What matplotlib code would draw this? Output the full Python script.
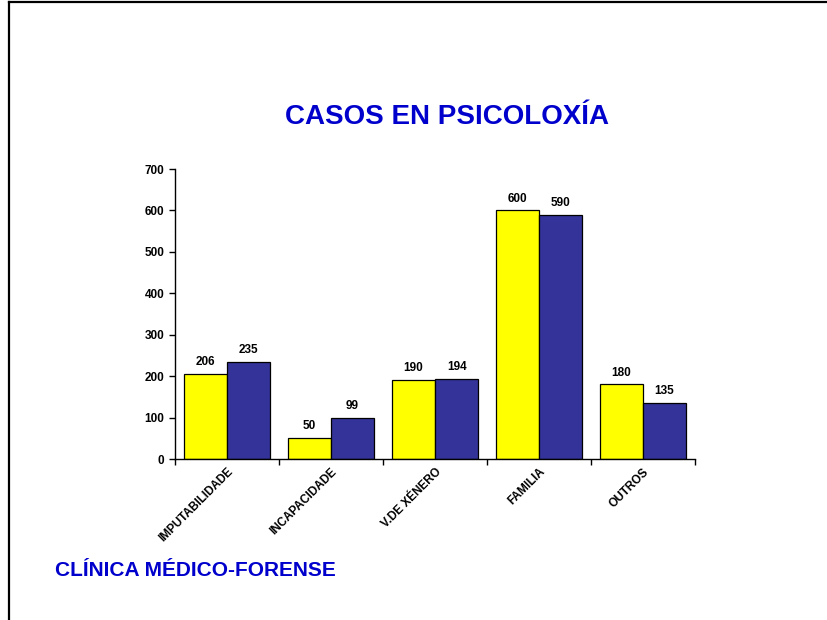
import matplotlib
matplotlib.use('Agg')
import matplotlib.pyplot as plt
from matplotlib.lines import Line2D
import numpy as np

plt.rcParams['font.family'] = ['Liberation Sans', 'DejaVu Sans']

# datos
categorias = ['IMPUTABILIDADE', 'INCAPACIDADE', 'V.DE XÉNERO', 'FAMILIA', 'OUTROS']
serie_a = [206, 50, 190, 600, 180]
serie_b = [235, 99, 194, 590, 135]

W, H = 827, 620
fig = plt.figure(figsize=(W / 100, H / 100), dpi=100)
ax = fig.add_axes([175 / W, 1 - 459 / H, 520 / W, 290 / H])

x = np.arange(len(categorias))
ancho = 0.415
b1 = ax.bar(x - ancho / 2, serie_a, ancho, color='#FFFF00', edgecolor='black', linewidth=0.9)
b2 = ax.bar(x + ancho / 2, serie_b, ancho, color='#333399', edgecolor='black', linewidth=0.9)

for barras in (b1, b2):
    for bar in barras:
        h = bar.get_height()
        ax.text(bar.get_x() + bar.get_width() / 2, h + 14, f'{h:.0f}',
                ha='center', va='bottom', fontsize=8.5, fontweight='bold')

ax.set_xlim(-0.5, len(categorias) - 0.5)
ax.set_ylim(0, 700)
ax.set_yticks(range(0, 701, 100))
ax.set_yticklabels([str(v) for v in range(0, 701, 100)], fontsize=8.5, fontweight='bold')

# ticks at category boundaries, labels at centers
ax.set_xticks(np.arange(-0.5, len(categorias), 1.0))
ax.set_xticklabels([])
ax.set_xticks(x, minor=True)
ax.set_xticklabels(categorias, minor=True, rotation=45, ha='right', rotation_mode='anchor',
                   fontsize=8.5, fontweight='bold')
ax.tick_params(axis='x', which='minor', length=0, pad=5)
ax.tick_params(axis='both', which='major', direction='out', length=4, width=1)

for s in ('top', 'right'):
    ax.spines[s].set_visible(False)
for s in ('left', 'bottom'):
    ax.spines[s].set_linewidth(1)

fig.text(447 / W, 1 - 117 / H, 'CASOS EN PSICOLOXÍA', ha='center', va='center',
         fontsize=20, fontweight='bold', color='#0000CC')
fig.text(55 / W, 1 - 570 / H, 'CLÍNICA MÉDICO-FORENSE', ha='left', va='center',
         fontsize=15, fontweight='bold', color='#0000CC',
         family=['Liberation Sans Narrow', 'Liberation Sans', 'DejaVu Sans'])

# marco
fig.add_artist(Line2D([8.5 / W, 1], [1 - 1.5 / H, 1 - 1.5 / H], color='black', linewidth=1.6))
fig.add_artist(Line2D([8.5 / W, 8.5 / W], [0, 1 - 1.5 / H], color='black', linewidth=1.6))

fig.savefig('out.png', dpi=100)
